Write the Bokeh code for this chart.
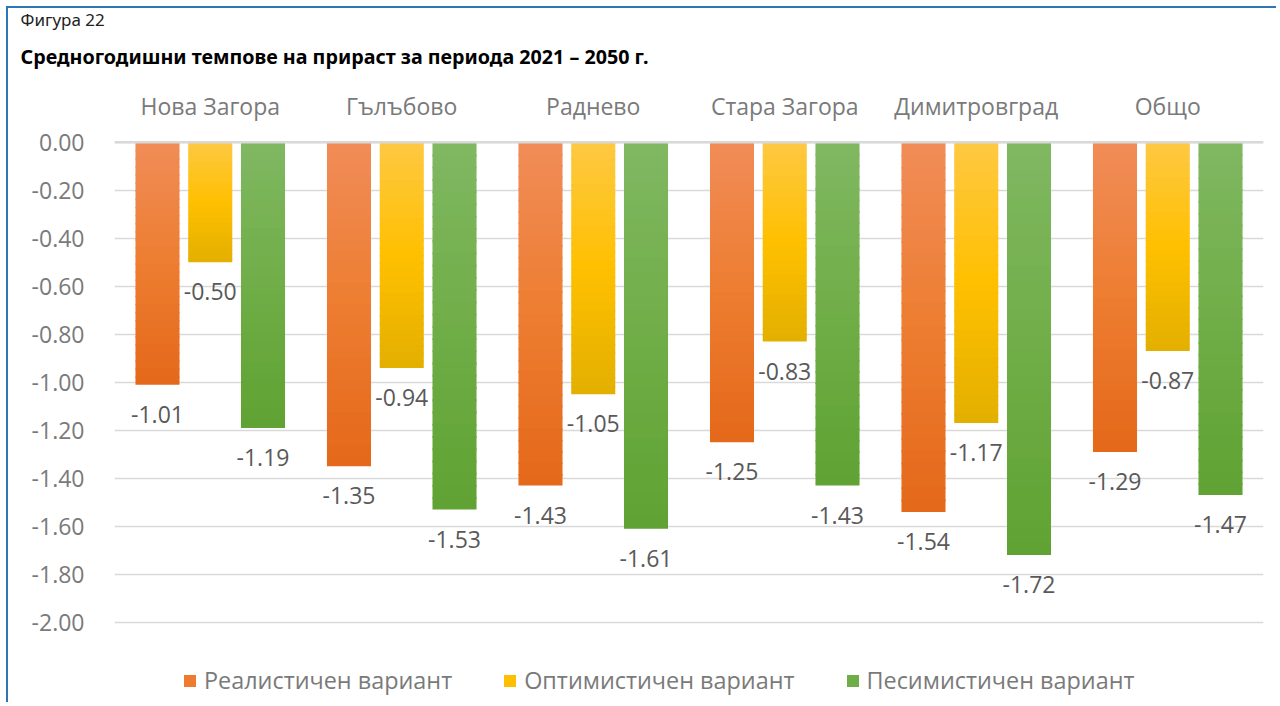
from bokeh.plotting import figure
from bokeh.models import (ColumnDataSource, FactorRange, Range1d, FixedTicker,
                          NumeralTickFormatter, Span, Title, Legend, LegendItem)
from bokeh.transform import dodge
from bokeh.embed import file_html
from bokeh.resources import INLINE
from bokeh.core.properties import value

# ---------------- data ----------------
categories = ["Нова Загора", "Гълъбово", "Раднево", "Стара Загора", "Димитровград", "Общо"]
series_names = ["Реалистичен вариант", "Оптимистичен вариант", "Песимистичен вариант"]
realistic = [-1.01, -1.35, -1.43, -1.25, -1.54, -1.29]
optimistic = [-0.50, -0.94, -1.05, -0.83, -1.17, -0.87]
pessimistic = [-1.19, -1.53, -1.61, -1.43, -1.72, -1.47]
y_ticks = [0.0, -0.2, -0.4, -0.6, -0.8, -1.0, -1.2, -1.4, -1.6, -1.8, -2.0]

# ---------------- styles ----------------
FONT = "Open Sans"
gradients = [
    ["#F18D58", "#ED7D31", "#E4681A"],   # orange
    ["#FEC843", "#FFC000", "#E3AF00"],   # yellow
    ["#80B862", "#70AD47", "#5FA232"],   # green
]
offsets = [-0.2755, 0.0, 0.2755]
BAR_W = 0.23
N_SLICES = 30


def hex2rgb(h):
    h = h.lstrip("#")
    return tuple(int(h[i:i + 2], 16) for i in (0, 2, 4))


def interp(stops, t):
    n = len(stops) - 1
    pos = min(t * n, n - 1e-9)
    i = int(pos)
    f = pos - i
    a, b = hex2rgb(stops[i]), hex2rgb(stops[i + 1])
    c = tuple(round(a[j] + (b[j] - a[j]) * f) for j in range(3))
    return "#%02x%02x%02x" % c


p = figure(
    x_range=FactorRange(*categories, range_padding=0.0),
    y_range=Range1d(0.02 - 567 / 240, 0.02),
    width=1270, height=696,
    min_border_left=106, min_border_right=15, min_border_top=129, min_border_bottom=0,
    x_axis_location="above",
    output_backend="svg", toolbar_location=None,
)
p.styles = {"border-top": "2px solid #2E75B6",
            "border-left": "2px solid #2E75B6",
            "margin-left": "6px", "margin-top": "6px"}
p.outline_line_color = None
p.background_fill_color = "white"
p.border_fill_color = "white"

# axes
p.xaxis.axis_line_color = None
p.xaxis.major_tick_line_color = None
p.xaxis.minor_tick_line_color = None
p.xaxis.major_label_text_font = FONT
p.xaxis.major_label_text_font_size = "23px"
p.xaxis.major_label_text_color = "#7a7a7a"
p.xaxis.major_label_standoff = 10

p.yaxis.ticker = FixedTicker(ticks=y_ticks)
p.yaxis.formatter = NumeralTickFormatter(format="0.00")
p.yaxis.axis_line_color = None
p.yaxis.major_tick_line_color = None
p.yaxis.minor_tick_line_color = None
p.yaxis.major_label_text_font = FONT
p.yaxis.major_label_text_font_size = "23px"
p.yaxis.major_label_text_color = "#7a7a7a"
p.yaxis.major_label_standoff = 24

p.xgrid.grid_line_color = None
p.ygrid.ticker = FixedTicker(ticks=y_ticks)
p.ygrid.grid_line_color = "#D9D9D9"
p.ygrid.grid_line_width = 1.5

# bars with vertical gradient (sliced)
legend_items = []
for s, vals in enumerate([realistic, optimistic, pessimistic]):
    data = {"cat": categories, "val": vals,
            "label": ["%.2f" % v for v in vals]}
    for k in range(N_SLICES):
        data["t%d" % k] = [v * k / N_SLICES for v in vals]
        data["b%d" % k] = [v * min(k + 1.15, N_SLICES) / N_SLICES for v in vals]
    src = ColumnDataSource(data)
    mid = None
    for k in range(N_SLICES):
        col = interp(gradients[s], (k + 0.5) / N_SLICES)
        r = p.vbar(x=dodge("cat", offsets[s], range=p.x_range), top="t%d" % k,
                   bottom="b%d" % k, width=BAR_W, source=src,
                   fill_color=col, line_color=None)
        if k == N_SLICES // 2:
            mid = r
    legend_items.append(LegendItem(label=series_names[s], renderers=[mid]))
    p.text(x=dodge("cat", offsets[s], range=p.x_range), y="val", text="label",
           source=src, text_font=value(FONT), text_font_size="23px",
           text_color="#595959", text_align="center", text_baseline="top",
           y_offset=21)

p.add_layout(Span(location=0, dimension="width", line_color="#D9D9D9", line_width=2.5))

legend = Legend(items=legend_items, orientation="horizontal", location=(68, 8),
                label_text_font=FONT, label_text_font_size="23.4px",
                label_text_color="#7a7a7a", glyph_width=15, glyph_height=15,
                label_standoff=7, spacing=50, border_line_color=None,
                background_fill_color=None, margin=0, padding=4)
p.add_layout(legend)

p.add_layout(Title(text="Средногодишни темпове на прираст за периода 2021 – 2050 г.",
                   text_font="Noto Sans", text_font_size="19.7px", text_font_style="bold",
                   text_color="black", align="left", offset=-94, standoff=33), "above")
p.add_layout(Title(text="Фигура 22", text_font="Noto Sans", text_font_size="17px",
                   text_font_style="normal", text_color="#222222", align="left",
                   offset=-94, standoff=-13), "above")

open("out.html", "w").write(file_html(p, INLINE))
